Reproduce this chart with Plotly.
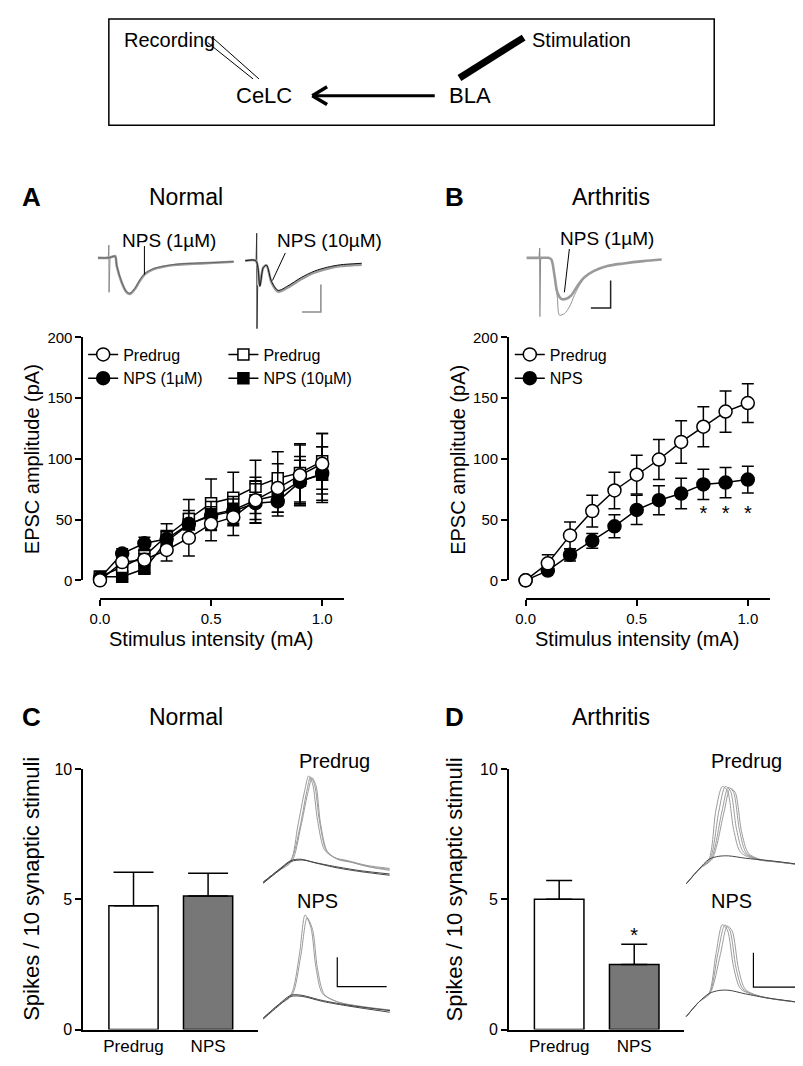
import plotly.graph_objects as go

W, H = 803, 1066
def px(x): return x / W
def py(y): return 1 - y / H

FONT = "Liberation Sans, Arial, sans-serif"
NARROW = "Liberation Sans Narrow, Arial Narrow, Liberation Sans, Arial, sans-serif"

# ---------------- Data ----------------
stim_mA = [0.0, 0.1, 0.2, 0.3, 0.4, 0.5, 0.6, 0.7, 0.8, 0.9, 1.0]

# Panel A (Normal)
a_pre1 = [0, 15, 17, 25, 35, 46.5, 52, 66, 76, 86.5, 96]
a_pre1_err = [1, 4, 5, 9, 15, 14, 15, 19, 20, 25, 25]
a_nps1 = [2, 22, 30.5, 34, 46.5, 53, 57, 63.5, 65, 81, 88]
a_nps1_err = [1, 4, 5, 6, 11, 12, 12, 16, 12, 18, 22]
a_pre10 = [3, 11, 20, 36.5, 50.5, 63.5, 68, 77, 84, 88.5, 98]
a_pre10_err = [1, 3, 5, 10, 16, 20, 21, 22, 22, 24, 23]
a_nps10 = [3, 3, 9.5, 32, 46, 54, 58, 66, 70, 82, 87]
a_nps10_err = [1, 2, 3, 6, 9, 12, 12, 16, 14, 20, 23]

# Panel B (Arthritis)
b_pre = [0, 14, 37, 57, 74, 87, 99.5, 114, 126.5, 139, 146]
b_pre_err = [0, 7, 11, 13, 15, 16, 16.5, 17.5, 16.5, 17, 16]
b_nps = [0, 8, 21, 32.5, 44.5, 58, 66, 71.5, 79, 80.5, 83]
b_nps_err = [0, 2, 5, 6, 9.5, 12, 12, 12.5, 12.5, 12.5, 11]
b_sig_x = [0.8, 0.9, 1.0]
b_sig_y = [54, 54, 54]

# Panels C / D (spikes per 10 stimuli)
bar_groups = ["Predrug", "NPS"]
c_vals = [4.75, 5.13]
c_err = [1.29, 0.87]
d_vals = [5.0, 2.5]
d_err = [0.72, 0.78]
d_sig_y = 3.55

# EPSC example traces (t in ms, I in pA)
a1_t = [-5.5, -0.5, 1.5, 3.2, 4, 6.5, 9, 10.7, 13.2, 15.7, 18.2, 22.4, 27.4, 34, 42.4, 50.7, 63.2]
a1_gray = [0, 0, 2, 3.4, -16.6, -50, -70, -73.4, -63.4, -46.6, -33.4, -23.4, -18, -14, -12, -10.6, -8]
a1_black = [0, 0, 2, 3, -16, -49, -69, -72, -62, -45, -32, -22, -17, -13, -11, -10, -7.5]
a1_art_t = [-0.3, 0, 0.1, 0.3, 0.6]
a1_art_i = [0, 26, -70, -5, 0]

a2_t = [-5.8, -0.4, 1.6, 3.3, 5, 7.5, 10.8, 15.8, 22.5, 29.2, 35.8, 42.5, 49.2, 53.2]
a2_gray = [0, 0, -50, -14, -9.4, -44, -62.6, -54, -37.4, -24, -16, -10.6, -8.6, -8]
a2_black = [0, 0, -52, -14, -9, -42, -60, -51, -34, -21, -13, -8, -6, -5]
a2_art_t = [-0.3, 0, 0.15, 0.5]
a2_art_i = [0, 56, -138, -50]
a2_bar_t = [23, 32.5, 32.5]
a2_bar_i = [-104, -104, -48]

b_tr_t = [-6.6, -0.6, 0.9, 4.4, 5.9, 7.5, 8.9, 10.9, 13.4, 15.9, 19.2, 22.5, 27.5, 34.2, 42.5, 52.5, 61.7]
b_tr_nps = [0, 0, 0, 0, -3.4, -36.6, -70, -83.4, -83.4, -76.6, -56.6, -40, -26.6, -16.6, -11.4, -6.6, -3.4]
b_tr_pre_t = [-6.6, -0.6, 0.9, 4.4, 5.9, 7.5, 8.9, 10, 12.5, 15, 17.5, 20, 22.5, 27.5, 34.2, 42.5, 52.5, 61.7]
b_tr_pre = [0, 0, 0, 0, -3.4, -36.6, -80, -116.6, -113.4, -100, -76.6, -56.6, -42, -27, -17, -11.5, -6.6, -3.4]
b_art_t = [-0.3, 0, 0.1, 0.4]
b_art_i = [0, 20, -120, 0]
b_bar_t = [25.9, 35.9, 35.9]
b_bar_i = [-102, -102, -46]

# Action potential example traces (t in ms, Vm in mV)
c_pre_spikes = [
    ([0, 15, 28, 35, 42, 46, 50, 55, 62, 72, 85, 105, 128],
     [-70, -58, -48, -13, 23, 38, 30, -7, -37, -45, -48, -53, -56]),
    ([0, 15, 28, 37, 44, 48, 52, 57, 64, 74, 87, 105, 128],
     [-70, -58, -48, -15, 22, 37, 29, -8, -38, -46, -49, -54, -57]),
    ([0, 15, 29, 38, 45, 49.5, 53.5, 58, 65, 76, 90, 110, 128],
     [-71, -59, -49, -14, 20, 36, 28, -10, -39, -47, -50, -55, -58]),
]
c_pre_sub = [
    ([0, 15, 28, 38, 52, 72, 98, 128], [-70, -58, -48, -46.7, -50, -54, -58.3, -61.7]),
    ([0, 15, 28, 40, 55, 75, 100, 128], [-71, -59, -49, -47.5, -51, -55.5, -59.5, -63]),
]
c_nps_spikes = [
    ([0, 15, 28, 36.7, 42.4, 48.4, 53.4, 60, 75, 101.7, 128.4],
     [-70, -56.7, -46.7, -5, 35, 21.6, -18.4, -45, -53.4, -58.4, -61.7]),
    ([0, 15, 29, 38, 44.5, 50, 55, 62, 77, 102, 128],
     [-70, -57, -47, -7, 32, 20, -20, -46, -54, -59, -62]),
]
c_nps_sub = [
    ([0, 15, 28, 38.4, 58.4, 85, 128.4], [-70, -56.7, -46.7, -46.7, -51.7, -56.7, -62.4]),
    ([0, 15, 28, 40, 60, 88, 128], [-71, -58, -48, -48, -53, -58, -64]),
]
c_scale_t = [75, 75, 125]
c_scale_v = [-8, -38, -38]

d_pre_spikes = [
    ([0, 13, 23, 30, 36.5, 41.5, 48, 55, 70, 90, 123], [-70, -55, -45, 5, 29, 25, -15, -38, -45, -47.5, -51.5]),
    ([0, 13, 24, 33, 39.5, 44.5, 51, 58, 72, 92, 123], [-70, -55, -45, 4, 29, 25, -15, -38, -45, -47.5, -51.5]),
    ([0, 13, 25, 36, 42.5, 47.5, 54, 61, 74, 94, 123], [-70, -55, -45, 3, 28, 24, -16, -39, -45.5, -48, -51.5]),
    ([0, 13, 26, 38, 44.5, 49.5, 56, 63, 76, 95, 123], [-70, -55, -45, 2, 27, 23, -17, -39, -45.5, -48, -51.5]),
]
d_pre_sub = [([0, 13, 23, 33, 43, 60, 83, 123], [-70, -55, -45, -42, -41.6, -44, -46.3, -51.3])]
d_nps_spikes = [
    ([0, 13, 23, 30, 36.5, 41.5, 48, 55, 73, 123], [-70, -55, -46.6, -6.6, 23.4, 18.4, -20, -41.6, -49.3, -56.6]),
    ([0, 13, 23.5, 32, 39, 44, 50.5, 57.5, 75, 123], [-70, -55, -46.6, -6, 23, 18, -21, -42, -49.5, -56.6]),
    ([0, 13, 24, 34.5, 41.5, 46.5, 53, 60, 77, 123], [-70, -55, -46.6, -7, 22, 17, -22, -42.5, -50, -56.6]),
]
d_nps_sub = [([0, 13, 23, 33, 43.3, 60, 83.3, 123.3], [-70, -55, -46.6, -43.5, -43.3, -47, -51.3, -56.6])]
d_scale_t = [68, 68, 121]
d_scale_v = [-5, -40, -40]

# ---------------- Figure ----------------
fig = go.Figure()
layout = dict(
    width=W, height=H, margin=dict(l=0, r=0, t=0, b=0),
    paper_bgcolor="white", plot_bgcolor="rgba(0,0,0,0)",
    font=dict(family=FONT, color="black", size=14),
    showlegend=True,
)

def main_axes(xn, yn, xdom, ydom, yaxis_x, xaxis_y):
    layout[f"xaxis{xn}"] = dict(
        domain=[px(xdom[0]), px(xdom[1])], range=[0, 1.1], anchor="free", position=py(xaxis_y),
        showline=True, linecolor="black", linewidth=1.5, ticks="outside", ticklen=6, tickwidth=1.5,
        tickcolor="black", tickvals=[0, 0.5, 1.0], ticktext=["0.0", "0.5", "1.0"],
        showgrid=False, zeroline=False, tickfont=dict(size=15, family=FONT), fixedrange=True)
    layout[f"yaxis{yn}"] = dict(
        domain=[py(ydom[1]), py(ydom[0])], range=[0, 200], anchor="free", position=px(yaxis_x),
        showline=True, linecolor="black", linewidth=1.5, ticks="outside", ticklen=6, tickwidth=1.5,
        tickcolor="black", tickvals=[0, 50, 100, 150, 200], showgrid=False, zeroline=False,
        tickfont=dict(size=15, family=FONT), fixedrange=True)

main_axes("", "", (83, 330.5), (326, 573), 65, 592)
main_axes("2", "2", (514, 761.5), (326, 573), 496, 592)

def bar_axes(n, xdom, xr):
    layout[f"xaxis{n}"] = dict(
        domain=[px(xdom[0]), px(xdom[1])], range=xr, anchor=f"y{n}", showline=True, linecolor="black",
        linewidth=1.5, ticks="", tickvals=[0, 1], ticktext=bar_groups, showgrid=False, zeroline=False,
        tickfont=dict(size=17, family=NARROW), fixedrange=True)
    layout[f"yaxis{n}"] = dict(
        domain=[py(1030), py(765)], range=[0, 10], anchor=f"x{n}", showline=True, linecolor="black",
        linewidth=1.5, ticks="outside", ticklen=6, tickwidth=1.5, tickcolor="black", tickvals=[0, 5, 10],
        showgrid=False, zeroline=False, tickfont=dict(size=16, family=FONT), fixedrange=True)

bar_axes(3, (66, 243), [-0.675, 1.669])
bar_axes(4, (497, 674), [-0.671, 1.658])

def inset_axes(n, box, anchor_px, anchor_data, kx, ky):
    x0, x1, y0, y1 = box
    ax, ay = anchor_px
    t0, v0 = anchor_data
    xr = [t0 + (x0 - ax) / kx, t0 + (x1 - ax) / kx]
    yr = [v0 - (y1 - ay) / ky, v0 + (ay - y0) / ky]
    layout[f"xaxis{n}"] = dict(domain=[px(x0), px(x1)], range=xr, visible=False, anchor=f"y{n}", fixedrange=True)
    layout[f"yaxis{n}"] = dict(domain=[py(y1), py(y0)], range=yr, visible=False, anchor=f"x{n}", fixedrange=True)

inset_axes(5, (74, 228, 212, 322), (92, 245), (0, 0), 2, 0.5)
inset_axes(6, (228, 362, 212, 322), (241.7, 248), (0, 0), 2, 0.5)
inset_axes(7, (505, 668, 212, 322), (528.3, 245), (0, 0), 2, 0.5)
inset_axes(8, (244, 390, 760, 892), (248.3, 880), (0, -70), 1, 1)
inset_axes(9, (244, 390, 898, 1032), (248.3, 1018.3), (0, -70), 1, 1)
inset_axes(10, (672, 803, 760, 892), (676.7, 881.7), (0, -70), 1, 1)
inset_axes(11, (672, 803, 898, 1032), (676.7, 1016.7), (0, -70), 1, 1)

# ---- Panel A/B series ----
def series(x, y, err, sym, fill, name, xa, ya, legend, rank, size=13):
    fig.add_trace(go.Scatter(
        x=x, y=y, mode="lines+markers", name=name, xaxis=xa, yaxis=ya, cliponaxis=False,
        line=dict(color="black", width=1.5),
        marker=dict(symbol=sym, size=size, color=fill, line=dict(color="black", width=1.5)),
        error_y=dict(type="data", array=err, color="black", thickness=1.5, width=6),
        legend=legend, legendrank=rank, showlegend=True))

series(stim_mA, a_nps10, a_nps10_err, "square", "black", "NPS (10µM)", "x", "y", "legend2", 2, 11)
series(stim_mA, a_pre10, a_pre10_err, "square", "white", "Predrug", "x", "y", "legend2", 1, 11)
series(stim_mA, a_nps1, a_nps1_err, "circle", "black", "NPS (1µM)", "x", "y", "legend", 2)
series(stim_mA, a_pre1, a_pre1_err, "circle", "white", "Predrug", "x", "y", "legend", 1)
series(stim_mA, b_nps, b_nps_err, "circle", "black", "NPS", "x2", "y2", "legend3", 2)
series(stim_mA, b_pre, b_pre_err, "circle", "white", "Predrug", "x2", "y2", "legend3", 1)

fig.add_trace(go.Scatter(x=b_sig_x, y=b_sig_y, mode="text", text=["*"] * len(b_sig_x),
                         textfont=dict(size=20, color="black"), xaxis="x2", yaxis="y2",
                         showlegend=False, cliponaxis=False))

# ---- Bars ----
for vals, errs, n, cap in [(c_vals, c_err, 3, 20), (d_vals, d_err, 4, 13)]:
    fig.add_trace(go.Bar(
        x=[0, 1], y=vals, width=0.66, xaxis=f"x{n}", yaxis=f"y{n}", showlegend=False,
        marker=dict(color=["white", "#777777"], line=dict(color="black", width=1.5)),
        error_y=dict(type="data", array=errs, arrayminus=[0, 0], symmetric=False,
                     color="black", thickness=1.5, width=cap)))
fig.add_trace(go.Scatter(x=[1], y=[d_sig_y], mode="text", text=["*"], textfont=dict(size=20),
                         xaxis="x4", yaxis="y4", showlegend=False, cliponaxis=False))

# ---- EPSC traces ----
def tr(x, y, n, color, width, shape="spline"):
    fig.add_trace(go.Scatter(x=x, y=y, mode="lines", xaxis=f"x{n}", yaxis=f"y{n}", showlegend=False,
                             hoverinfo="skip", line=dict(color=color, width=width, shape=shape, smoothing=0.8)))

tr(a1_art_t, a1_art_i, 5, "#8a8a8a", 1, "linear")
tr(a1_t, a1_gray, 5, "#9a9a9a", 2.6)
tr(a1_t, a1_black, 5, "#555555", 0.8)
tr(a2_art_t, a2_art_i, 6, "#333333", 1, "linear")
tr(a2_t, a2_gray, 6, "#9a9a9a", 2.6)
tr(a2_t, a2_black, 6, "#111111", 1)
tr(a2_bar_t, a2_bar_i, 6, "#8a8a8a", 1.5, "linear")
tr(b_art_t, b_art_i, 7, "#8a8a8a", 1.2, "linear")
tr(b_tr_pre_t, b_tr_pre, 7, "#777777", 0.8)
tr(b_tr_t, b_tr_nps, 7, "#9a9a9a", 2.6)
tr(b_bar_t, b_bar_i, 7, "#222222", 1.5, "linear")

# ---- AP traces ----
for n, spikes, subs in [(8, c_pre_spikes, c_pre_sub), (9, c_nps_spikes, c_nps_sub),
                        (10, d_pre_spikes, d_pre_sub), (11, d_nps_spikes, d_nps_sub)]:
    for t, v in spikes:
        tr(t, v, n, "#9a9a9a", 1)
    for t, v in subs:
        tr(t, v, n, "#444444", 1)
tr(c_scale_t, c_scale_v, 9, "black", 1.2, "linear")
tr(d_scale_t, d_scale_v, 11, "black", 1.2, "linear")

# ---- Legends ----
leg_common = dict(bgcolor="rgba(0,0,0,0)", font=dict(size=16, family=FONT), xanchor="left",
                  yanchor="top", traceorder="normal", itemwidth=30, tracegroupgap=0)
layout["legend"] = dict(x=px(66), y=py(326), **leg_common)
layout["legend2"] = dict(x=px(208), y=py(326), **leg_common)
layout["legend3"] = dict(x=px(498), y=py(326), **leg_common)

# ---- Annotations & shapes ----
ann = []
def text(x, y, s, size, bold=False, angle=0, xanchor="center", family=FONT):
    ann.append(dict(x=px(x), y=py(y), xref="paper", yref="paper", text=f"<b>{s}</b>" if bold else s,
                    showarrow=False, font=dict(size=size, family=family), textangle=angle,
                    xanchor=xanchor, yanchor="middle"))

text(105, 23, "Recording", 20, xanchor="left")
text(518, 23, "Stimulation", 20, xanchor="left")
text(249, 80, "CeLC", 22)
text(458, 80, "BLA", 22)

for x, s in [(14, "A"), (442, "B")]:
    text(x, 183, s, 26, bold=True)
for x, s in [(14, "C"), (442, "D")]:
    text(x, 712, s, 26, bold=True)
text(170, 183, "Normal", 23)
text(600, 183, "Arthritis", 23)
text(170, 712, "Normal", 23)
text(600, 712, "Arthritis", 23)
text(153, 227, "NPS (1µM)", 19)
text(315, 227, "NPS (10µM)", 19)
text(596, 225, "NPS (1µM)", 19)
text(15, 450, "EPSC amplitude (pA)", 20, angle=-90)
text(446, 450, "EPSC amplitude (pA)", 20, angle=-90)
text(196, 633, "Stimulus intensity (mA)", 20)
text(627, 633, "Stimulus intensity (mA)", 20)
text(13, 887, "Spikes / 10 synaptic stimuli", 22, angle=-90, family=NARROW)
text(442, 887, "Spikes / 10 synaptic stimuli", 22, angle=-90, family=NARROW)
text(320, 757, "Predrug", 20)
text(303, 899, "NPS", 20)
text(738, 757, "Predrug", 20)
text(723, 899, "NPS", 20)
layout["annotations"] = ann

shapes = []
def pline(x0, y0, x1, y1, w, color="black"):
    shapes.append(dict(type="line", xref="paper", yref="paper", x0=px(x0), y0=py(y0), x1=px(x1), y1=py(y1),
                       line=dict(color=color, width=w)))

shapes.append(dict(type="rect", xref="paper", yref="paper", x0=px(92), y0=py(110), x1=px(705), y1=py(2),
                   line=dict(color="black", width=1.5)))
pline(197, 21, 244, 63, 1)
pline(192, 26, 238, 63, 1)
pline(300, 80, 422, 80, 3)
pline(298, 80, 313, 71, 3.5)
pline(298, 80, 313, 89, 3.5)
pline(447, 62, 512, 21, 7)

# leader lines in inset data units
def dline(n, x0, y0, x1, y1):
    shapes.append(dict(type="line", xref=f"x{n}", yref=f"y{n}", x0=x0, y0=y0, x1=x1, y1=y1,
                       line=dict(color="black", width=1)))
dline(5, 18, 24, 18, -34)
dline(6, 14.5, 16, 8, -40)
dline(7, 15, 18, 12.5, -70)
layout["shapes"] = shapes

fig.update_layout(**layout)
fig.write_html("out.html")
